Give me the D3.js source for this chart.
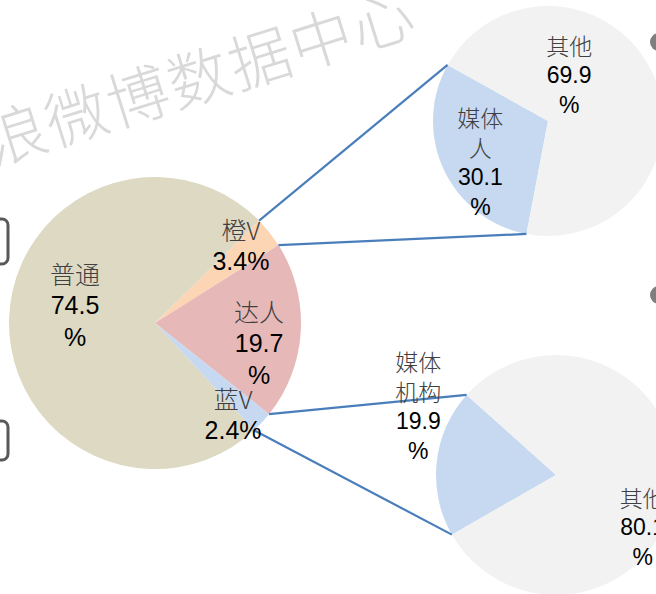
<!DOCTYPE html>
<html>
<head>
<meta charset="utf-8">
<script src="https://cdn.jsdelivr.net/npm/d3@7"></script>
<style>
  html, body { margin: 0; padding: 0; background: #fff; overflow: hidden; }
  svg { display: block; }
</style>
</head>
<body>
<svg id="chart" width="656" height="594"></svg>
<script>
// User composition: main split and the two breakdowns
const mainCats = ["橙V", "达人", "蓝V", "普通"];
const mainVals = [3.4, 19.7, 2.4, 74.5];

const orangeCats = ["媒体人", "其他"];
const orangeVals = [30.1, 69.9];

const blueCats = ["媒体机构", "其他"];
const blueVals = [19.9, 80.1];

const watermarkText = "新浪微博数据中心";

// ---- layout ----
const W = 656, H = 594;
const deg = Math.PI / 180;
const svg = d3.select("#chart");

const colors = {
  "橙V": "#fcd5b5", "达人": "#e6b9b8", "蓝V": "#c6d9f1", "普通": "#ddd9c3",
  "媒体人": "#c6d9f1", "媒体机构": "#c6d9f1", "其他": "#f2f2f2"
};

const pies = [
  { key: "main", cats: mainCats, vals: mainVals, cx: 155, cy: 323, r: 146, start: 45.5,
    fs: 25, ls: 32,
    labels: { "橙V": [47.8, 116], "达人": [100.9, 106], "蓝V": [139.4, 120], "普通": [282.7, 82] } },
  { key: "orange", cats: orangeCats, vals: orangeVals, cx: 548, cy: 121, r: 115, start: 190.8,
    fs: 23, ls: 30,
    labels: { "媒体人": [238.9, 79], "其他": [24.5, 51] } },
  { key: "blue", cats: blueCats, vals: blueVals, cx: 556, cy: 475, r: 120, start: 240.2,
    fs: 23, ls: 30,
    labels: { "媒体机构": [296.6, 154], "其他": [120.9, 101] } }
];

// watermark
svg.append("text")
  .attr("transform", "translate(168,83) rotate(-17.3)")
  .attr("text-anchor", "middle")
  .attr("dominant-baseline", "central")
  .style("font-family", "'Noto Sans CJK SC', sans-serif")
  .style("font-size", "62px")
  .style("font-weight", 300)
  .style("letter-spacing", "2px")
  .attr("fill", "#d9d9d9")
  .text(watermarkText);

// cropped frame pieces on the left edge and markers on the right edge
svg.append("rect").attr("x", -22).attr("y", 219).attr("width", 30).attr("height", 45)
  .attr("rx", 6).attr("fill", "none").attr("stroke", "#595959").attr("stroke-width", 3);
svg.append("rect").attr("x", -22).attr("y", 421).attr("width", 30).attr("height", 39)
  .attr("rx", 6).attr("fill", "none").attr("stroke", "#595959").attr("stroke-width", 3);
svg.append("circle").attr("cx", 659).attr("cy", 42).attr("r", 9).attr("fill", "#7f7f7f");
svg.append("circle").attr("cx", 659).attr("cy", 295).attr("r", 9).attr("fill", "#7f7f7f");

// compute arcs for each pie
pies.forEach(p => {
  const data = p.cats.map((c, i) => ({ cat: c, val: p.vals[i] }));
  p.arcs = d3.pie().sort(null).value(d => d.val)
    .startAngle(p.start * deg).endAngle(p.start * deg + 2 * Math.PI)(data);
  p.arcGen = d3.arc().innerRadius(0).outerRadius(p.r);
  p.byCat = {};
  p.arcs.forEach(a => p.byCat[a.data.cat] = a);
});

// draw pies
pies.forEach(p => {
  const g = svg.append("g").attr("transform", `translate(${p.cx},${p.cy})`);
  g.selectAll("path").data(p.arcs).join("path")
    .attr("d", p.arcGen)
    .attr("fill", d => colors[d.data.cat]);
});

// connector lines from the main slices to their breakdown pies
function edgePoint(p, angle) {
  const [x, y] = d3.pointRadial(angle, p.r);
  return [p.cx + x, p.cy + y];
}
const [mainP, orangeP, blueP] = pies;
const oSlice = mainP.byCat["橙V"], bSlice = mainP.byCat["蓝V"];
const oTarget = orangeP.byCat["媒体人"], bTarget = blueP.byCat["媒体机构"];
const connectors = [
  [edgePoint(mainP, oSlice.startAngle), edgePoint(orangeP, oTarget.endAngle)],
  [edgePoint(mainP, oSlice.endAngle), edgePoint(orangeP, oTarget.startAngle)],
  [edgePoint(mainP, bSlice.startAngle), edgePoint(blueP, bTarget.endAngle)],
  [edgePoint(mainP, bSlice.endAngle), edgePoint(blueP, bTarget.startAngle)]
];
svg.append("g").selectAll("line").data(connectors).join("line")
  .attr("x1", d => d[0][0]).attr("y1", d => d[0][1])
  .attr("x2", d => d[1][0]).attr("y2", d => d[1][1])
  .attr("stroke", "#4a7ebb").attr("stroke-width", 2.2);

// data labels: name split in pairs of characters, then the value
function labelLines(cat, val) {
  const lines = [];
  const chars = Array.from(cat);
  for (let i = 0; i < chars.length; i += 2) lines.push({ t: chars.slice(i, i + 2).join(""), cjk: true });
  const v = d3.format(".1f")(val);
  if (v.length <= 3) lines.push({ t: v + "%", cjk: false });
  else { lines.push({ t: v, cjk: false }); lines.push({ t: "%", cjk: false }); }
  return lines;
}

pies.forEach(p => {
  p.arcs.forEach(a => {
    const [ang, rad] = p.labels[a.data.cat];
    const [lx, ly] = d3.pointRadial(ang * deg, rad);
    const lines = labelLines(a.data.cat, a.data.val);
    const y0 = p.cy + ly - (lines.length - 1) * p.ls / 2;
    const t = svg.append("text")
      .attr("text-anchor", "middle")
      .style("font-size", p.fs + "px");
    lines.forEach((ln, i) => {
      t.append("tspan")
        .attr("x", p.cx + lx)
        .attr("y", y0 + i * p.ls)
        .attr("dominant-baseline", "central")
        .style("font-family", ln.cjk ? "'Noto Sans CJK SC', sans-serif" : "'Liberation Sans', Arial, sans-serif")
        .style("font-weight", ln.cjk ? 300 : 400)
        .attr("fill", ln.cjk ? "#404040" : "#000")
        .text(ln.t);
    });
  });
});
</script>
</body>
</html>
